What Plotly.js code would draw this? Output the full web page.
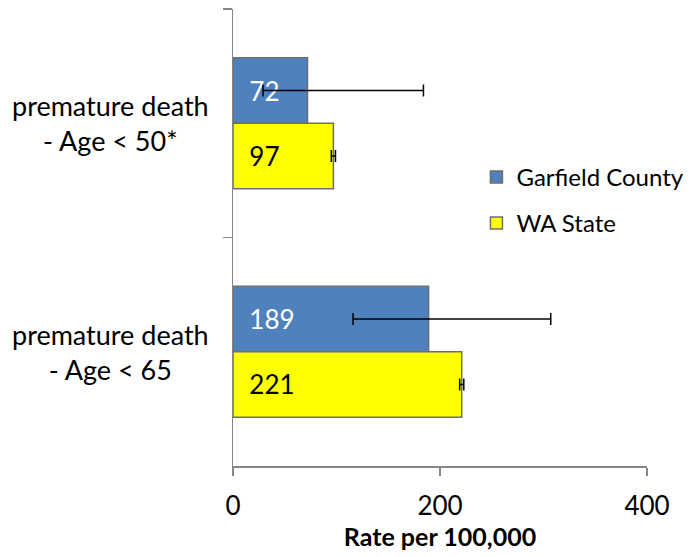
<!DOCTYPE html>
<html>
<head>
<meta charset="utf-8">
<script src="https://cdn.plot.ly/plotly-3.0.1.min.js"></script>
<style>html,body{margin:0;padding:0;background:#fff;}#chart{width:691px;height:557px;}</style>
</head>
<body>
<div id="chart"></div>
<script>
// Data
const categories = ["premature death<br>- Age < 50*", "premature death<br>- Age < 65"];
const seriesNames = ["Garfield County", "WA State"];
const garfieldValues = [72, 189];
const garfieldErrPlus = [112, 118];
const garfieldErrMinus = [43, 73];
const waValues = [97, 221];
const waErrPlus = [2, 2];
const waErrMinus = [2, 2];
const xTickValues = [0, 200, 400];
const xAxisTitle = "Rate per 100,000";

const FONT = "Lato, 'Open Sans', sans-serif";
const FS = 26;
const NB = "\u00a0\u00a0";

const traces = [
  {
    type: "bar", orientation: "h", name: seriesNames[0], legendgroup: "g1",
    y: categories, x: garfieldValues,
    marker: {color: "#4F81BD", line: {color: "#6E6E6E", width: 1.5}},
    text: garfieldValues.map(v => NB + v), textposition: "inside", insidetextanchor: "start",
    textangle: 0, insidetextfont: {family: FONT, size: FS, color: "#FFFFFF"},
    hoverinfo: "skip",
    error_x: {type: "data", symmetric: false, array: garfieldErrPlus, arrayminus: garfieldErrMinus,
              color: "#000000", thickness: 1.5, width: 6}
  },
  {
    type: "bar", orientation: "h", name: seriesNames[1], legendgroup: "g2",
    y: categories, x: waValues,
    marker: {color: "#FFFF00", line: {color: "#6E6E6E", width: 1.5}},
    text: waValues.map(v => NB + v), textposition: "inside", insidetextanchor: "start",
    textangle: 0, insidetextfont: {family: FONT, size: FS, color: "#000000"},
    hoverinfo: "skip",
    error_x: {type: "data", symmetric: false, array: waErrPlus, arrayminus: waErrMinus,
              color: "#000000", thickness: 1.5, width: 6}
  }
];

const annotations = categories.map(c => ({
  xref: "paper", yref: "y", x: -0.297, y: c, text: c, showarrow: false,
  xanchor: "center", yanchor: "middle", align: "center",
  font: {family: FONT, size: 27, color: "#000000"}
}));

const layout = {
  width: 691, height: 557,
  margin: {l: 233, r: 44, t: 9, b: 91, autoexpand: false},
  paper_bgcolor: "#FFFFFF", plot_bgcolor: "#FFFFFF",
  barmode: "group", bargap: 0.427, bargroupgap: 0,
  font: {family: FONT, size: FS, color: "#000000"},
  showlegend: true,
  legend: {x: 0.588, y: 0.681, xanchor: "left", yanchor: "top", traceorder: "grouped",
           tracegroupgap: 12, bgcolor: "rgba(0,0,0,0)", font: {family: FONT, size: 24, color: "#000000"}},
  xaxis: {
    range: [0, 400], tickvals: xTickValues, ticktext: xTickValues.map(String),
    showgrid: false, zeroline: false, showline: true, linecolor: "#868686", linewidth: 1.5,
    ticks: "outside", ticklen: 8, tickwidth: 1.5, tickcolor: "#868686", ticklabelstandoff: 8,
    tickfont: {family: FONT, size: FS, color: "#000000"},
    title: {text: "<b>" + xAxisTitle + "</b>", font: {family: FONT, size: 25, color: "#000000"}, standoff: 9},
    automargin: false, fixedrange: true
  },
  yaxis: {
    type: "category", range: [1.5, -0.5], showticklabels: false,
    showgrid: false, zeroline: false, showline: true, linecolor: "#868686", linewidth: 1.5,
    ticks: "outside", tickson: "boundaries", ticklen: 9, tickwidth: 1.5, tickcolor: "#868686",
    automargin: false, fixedrange: true
  },
  annotations: annotations
};

Plotly.newPlot("chart", traces, layout, {displayModeBar: false, staticPlot: true});
</script>
</body>
</html>
